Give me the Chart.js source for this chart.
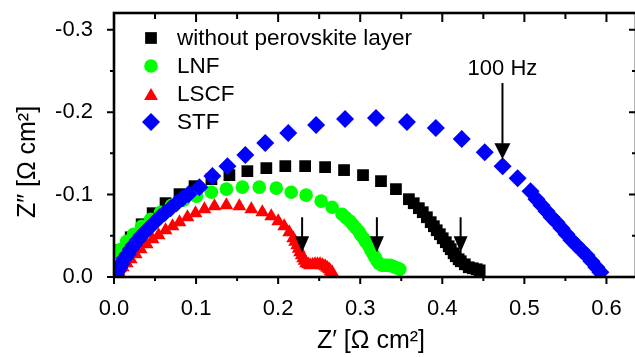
<!DOCTYPE html>
<html>
<head>
<meta charset="utf-8">
<script src="https://cdn.jsdelivr.net/npm/chart.js"></script>
<style>
  body { margin: 0; background: #fff; overflow: hidden; }
  #wrap { width: 645px; height: 357px; }
</style>
</head>
<body>
<div id="wrap"><canvas id="nyquist" width="645" height="357"></canvas></div>
<script>
// Nyquist plot, Z' vs Z'' (ohm cm^2)
const seriesNames = ["without perovskite layer", "LNF", "LSCF", "STF"];

const bareX = [0.0033, 0.0082, 0.0203, 0.0337, 0.0471, 0.0628, 0.0798, 0.0981, 0.1187, 0.1406, 0.1625, 0.1856, 0.2087, 0.2329, 0.2572, 0.2803, 0.3034, 0.3253, 0.3435, 0.3593, 0.3652, 0.3714, 0.3762, 0.3812, 0.3859, 0.3897, 0.3932, 0.3970, 0.4005, 0.4043, 0.4078, 0.4103, 0.4138, 0.4164, 0.4199, 0.4225, 0.4274, 0.4322, 0.4371, 0.4419, 0.4455];
const bareY = [-0.0179, -0.0324, -0.0482, -0.0640, -0.0774, -0.0896, -0.1005, -0.1102, -0.1187, -0.1236, -0.1284, -0.1321, -0.1345, -0.1345, -0.1333, -0.1297, -0.1236, -0.1163, -0.1066, -0.0944, -0.0895, -0.0835, -0.0786, -0.0725, -0.0665, -0.0616, -0.0567, -0.0519, -0.0470, -0.0422, -0.0373, -0.0337, -0.0288, -0.0252, -0.0215, -0.0191, -0.0154, -0.0118, -0.0106, -0.0094, -0.0081];

const lnfX = [0.0009, 0.0033, 0.0082, 0.0154, 0.0239, 0.0337, 0.0446, 0.0567, 0.0701, 0.0847, 0.1005, 0.1187, 0.1369, 0.1564, 0.1770, 0.1977, 0.2159, 0.2341, 0.2524, 0.2657, 0.2779, 0.2827, 0.2876, 0.2912, 0.2949, 0.2985, 0.3010, 0.3045, 0.3070, 0.3106, 0.3131, 0.3155, 0.3180, 0.3203, 0.3228, 0.3264, 0.3301, 0.3325, 0.3362, 0.3398, 0.3423, 0.3458, 0.3483];
const lnfY = [-0.0130, -0.0239, -0.0337, -0.0434, -0.0519, -0.0616, -0.0701, -0.0786, -0.0871, -0.0932, -0.0981, -0.1029, -0.1066, -0.1090, -0.1090, -0.1078, -0.1029, -0.0993, -0.0920, -0.0847, -0.0762, -0.0719, -0.0677, -0.0634, -0.0592, -0.0549, -0.0507, -0.0464, -0.0422, -0.0373, -0.0324, -0.0282, -0.0239, -0.0197, -0.0166, -0.0142, -0.0142, -0.0142, -0.0142, -0.0130, -0.0118, -0.0106, -0.0094];

const lscfX = [0.0021, 0.0057, 0.0106, 0.0154, 0.0203, 0.0264, 0.0324, 0.0397, 0.0470, 0.0543, 0.0628, 0.0713, 0.0798, 0.0895, 0.0993, 0.1102, 0.1224, 0.1369, 0.1527, 0.1673, 0.1807, 0.1916, 0.2001, 0.2074, 0.2135, 0.2183, 0.2207, 0.2232, 0.2250, 0.2268, 0.2286, 0.2305, 0.2322, 0.2341, 0.2365, 0.2390, 0.2420, 0.2450, 0.2480, 0.2511, 0.2541, 0.2572, 0.2596, 0.2620, 0.2638, 0.2657];
const lscfY = [-0.0021, -0.0069, -0.0118, -0.0166, -0.0215, -0.0276, -0.0337, -0.0397, -0.0458, -0.0507, -0.0567, -0.0616, -0.0665, -0.0725, -0.0774, -0.0823, -0.0859, -0.0871, -0.0859, -0.0823, -0.0786, -0.0738, -0.0677, -0.0616, -0.0543, -0.0470, -0.0428, -0.0385, -0.0343, -0.0300, -0.0264, -0.0227, -0.0197, -0.0166, -0.0154, -0.0142, -0.0148, -0.0154, -0.0154, -0.0154, -0.0142, -0.0130, -0.0112, -0.0094, -0.0069, -0.0057];

const stfX = [0.0021, 0.0045, 0.0069, 0.0094, 0.0130, 0.0166, 0.0203, 0.0239, 0.0288, 0.0337, 0.0385, 0.0434, 0.0495, 0.0555, 0.0616, 0.0689, 0.0762, 0.0835, 0.0908, 0.1041, 0.1199, 0.1382, 0.1600, 0.1843, 0.2123, 0.2463, 0.2815, 0.3192, 0.3569, 0.3921, 0.4237, 0.4517, 0.4735, 0.4918, 0.5075, 0.5148, 0.5209, 0.5270, 0.5331, 0.5391, 0.5452, 0.5513, 0.5574, 0.5634, 0.5695, 0.5756, 0.5817, 0.5877, 0.5926];
const stfY = [-0.0021, -0.0070, -0.0118, -0.0167, -0.0228, -0.0276, -0.0337, -0.0385, -0.0446, -0.0507, -0.0555, -0.0604, -0.0665, -0.0725, -0.0774, -0.0835, -0.0896, -0.0956, -0.1005, -0.1090, -0.1224, -0.1345, -0.1479, -0.1625, -0.1746, -0.1843, -0.1916, -0.1928, -0.1880, -0.1807, -0.1673, -0.1515, -0.1345, -0.1199, -0.1041, -0.0944, -0.0871, -0.0798, -0.0725, -0.0665, -0.0592, -0.0519, -0.0446, -0.0385, -0.0324, -0.0264, -0.0191, -0.0118, -0.0057];

// axis ticks (labelled); minor ticks sit halfway between
const xTicks = [0.0, 0.1, 0.2, 0.3, 0.4, 0.5, 0.6];
const yTicks = [0.0, -0.1, -0.2, -0.3];

// frequency markers (arrows), in data units
const smallArrowX = [0.2292, 0.3203, 0.4223];
const smallArrowTop = -0.0725, smallArrowTip = -0.0300;
const bigArrowX = 0.4733, bigArrowTop = -0.2353, bigArrowTip = -0.1430;
const freqLabel = "100 Hz";

const colors = ["#000000", "#00ff00", "#ff0000", "#0000ff"];
const styles = ["rect", "circle", "triangle", "rectRot"];
const radii = [8.3, 6.8, 8, 9];

function pts(xs, ys) {
    return xs.map((x, i) => ({x: x, y: ys[i]}));
}

// majors plus the midpoints between them (plus one beyond the last, if in range)
function withMinor(list, step, lo, hi) {
    var out = [];
    for (var v of list) {
        out.push({value: v, major: true});
        var m = v + step / 2;
        if (m > lo && m < hi) out.push({value: m, major: false});
    }
    return out;
}

const FONT = "'Liberation Sans', Arial, sans-serif";

// box frame, tick marks, titles, legend and arrows
const extras = {
    id: "extras",
    afterDatasetsDraw(chart) {
        var ctx = chart.ctx;
        var a = chart.chartArea;
        var xs = chart.scales.x, ys = chart.scales.y;
        ctx.save();
        ctx.strokeStyle = "#000";
        ctx.fillStyle = "#000";

        // ticks
        ctx.lineWidth = 2;
        ctx.beginPath();
        for (var t of xs.ticks) {
            var px = xs.getPixelForValue(t.value);
            var len = t.major ? 7 : 4;
            ctx.moveTo(px, a.bottom); ctx.lineTo(px, a.bottom + len);
            ctx.moveTo(px, a.top); ctx.lineTo(px, a.top + len + 2);
        }
        for (var t of ys.ticks) {
            var py = ys.getPixelForValue(t.value);
            var len = t.major ? 7 : 4;
            ctx.moveTo(a.left, py); ctx.lineTo(a.left - len, py);
            ctx.moveTo(a.right, py); ctx.lineTo(a.right - len, py);
        }
        ctx.stroke();

        // frame
        ctx.lineWidth = 2.6;
        ctx.strokeRect(a.left, a.top, a.right - a.left, a.bottom - a.top);

        // arrows
        function arrow(x, y0, y1, head, half) {
            var px = xs.getPixelForValue(x);
            var p0 = ys.getPixelForValue(y0), p1 = ys.getPixelForValue(y1);
            ctx.lineWidth = 2;
            ctx.beginPath();
            ctx.moveTo(px, p0); ctx.lineTo(px, p1 - head + 2);
            ctx.stroke();
            ctx.beginPath();
            ctx.moveTo(px, p1);
            ctx.lineTo(px - half, p1 - head);
            ctx.lineTo(px + half, p1 - head);
            ctx.closePath();
            ctx.fill();
        }
        for (var x of smallArrowX) arrow(x, smallArrowTop, smallArrowTip, 16, 7);
        arrow(bigArrowX, bigArrowTop, bigArrowTip, 16, 8);

        ctx.font = "22px " + FONT;
        ctx.textAlign = "center";
        ctx.textBaseline = "alphabetic";
        ctx.fillText(freqLabel, xs.getPixelForValue(bigArrowX), ys.getPixelForValue(bigArrowTop) - 8);

        // axis titles
        ctx.font = "25px " + FONT;
        ctx.fillText("Z\u2032 [\u03A9 cm\u00B2]", 371, 348);
        ctx.save();
        ctx.translate(28, 162);
        ctx.rotate(-Math.PI / 2);
        ctx.textBaseline = "middle";
        ctx.fillText("Z\u2033 [\u03A9 cm\u00B2]", 0, 0);
        ctx.restore();

        // legend
        ctx.font = "22.5px " + FONT;
        ctx.textAlign = "left";
        ctx.textBaseline = "middle";
        for (var i = 0; i < seriesNames.length; i++) {
            var ly = 38 + i * 28;
            ctx.fillStyle = colors[i];
            Chart.helpers.drawPoint(ctx, {pointStyle: styles[i], radius: radii[i], rotation: 0, borderWidth: 0}, 151, ly + (styles[i] === "triangle" ? 2 : 0));
            ctx.fillStyle = "#000";
            ctx.fillText(seriesNames[i], 177, ly + 1);
        }
        ctx.restore();
    }
};

const allX = [bareX, lnfX, lscfX, stfX];
const allY = [bareY, lnfY, lscfY, stfY];

new Chart("nyquist", {
    type: "scatter",
    data: {
        datasets: seriesNames.map((name, i) => ({
            label: name,
            data: pts(allX[i], allY[i]),
            pointStyle: styles[i],
            pointRadius: radii[i],
            pointHoverRadius: radii[i],
            pointBackgroundColor: colors[i],
            pointBorderWidth: 0,
            borderWidth: 0,
            showLine: false,
            order: 4 - i
        }))
    },
    options: {
        responsive: false,
        animation: false,
        events: [],
        layout: { padding: { top: 13, right: 7, left: 0, bottom: 0 } },
        plugins: { legend: { display: false }, tooltip: { enabled: false } },
        scales: {
            x: {
                type: "linear",
                min: 0,
                max: 0.636,
                grid: { display: false },
                border: { display: false },
                afterBuildTicks: s => { s.ticks = withMinor(xTicks, 0.1, s.min, s.max); },
                afterFit: s => { s.height = 80; s.paddingLeft = 0; s.paddingRight = 0; },
                ticks: {
                    padding: 11,
                    color: "#000",
                    font: { family: FONT, size: 22 },
                    maxRotation: 0,
                    autoSkip: false,
                    callback: function(v, i, ticks) { return ticks[i].major ? v.toFixed(1) : ""; }
                }
            },
            y: {
                type: "linear",
                min: -0.3203,
                max: 0,
                reverse: true,
                grid: { display: false },
                border: { display: false },
                afterBuildTicks: s => { s.ticks = withMinor(yTicks, -0.1, s.min, s.max); },
                afterFit: s => { s.width = 114; s.paddingTop = 0; s.paddingBottom = 0; },
                ticks: {
                    padding: 13,
                    color: "#000",
                    font: { family: FONT, size: 22 },
                    autoSkip: false,
                    callback: function(v, i, ticks) { return ticks[i].major ? (Math.abs(v) < 1e-9 ? "0.0" : v.toFixed(1)) : ""; }
                }
            }
        }
    },
    plugins: [extras]
});
</script>
</body>
</html>
